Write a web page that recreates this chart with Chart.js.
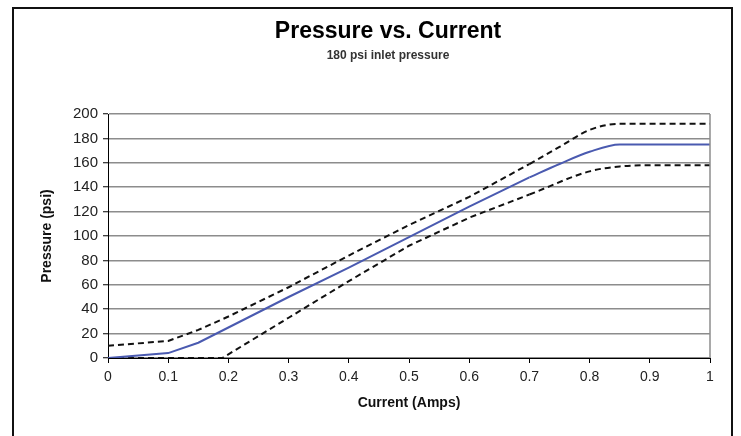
<!DOCTYPE html>
<html>
<head>
<meta charset="utf-8">
<title>Pressure vs. Current</title>
<script src="https://cdn.jsdelivr.net/npm/chart.js@4"></script>
<style>
  body { margin: 0; background: #fff; }
  #wrap { width: 741px; height: 436px; }
</style>
</head>
<body>
<div id="wrap"><canvas id="pressureChart" width="741" height="436"></canvas></div>
<script>
// values
const currentMid = [0, 0.1, 0.15, 0.2, 0.3, 0.4, 0.5, 0.6, 0.7, 0.75, 0.8, 0.85, 0.9, 1];
const pressureMid = [0, 4, 12.5, 25, 50, 74, 99, 124, 148, 159, 169, 175, 175, 175];

const currentHigh = [0, 0.1, 0.15, 0.2, 0.3, 0.4, 0.5, 0.6, 0.7, 0.75, 0.8, 0.85, 0.9, 1];
const pressureHigh = [10, 14, 23, 34, 58, 84, 109, 132, 159, 173, 187, 192, 192, 192];

const currentLow = [0, 0.1, 0.19, 0.3, 0.4, 0.5, 0.6, 0.7, 0.8, 0.85, 0.9, 1];
const pressureLow = [0, 0, 0, 33, 63, 92, 115, 134, 153, 157, 158, 158];

// straight segments below this current, smoothed bend above it
const BEND_FROM = 0.7;

const FONT = "'Liberation Sans', Arial, sans-serif";

function toPoints(xs, ys, keep) {
  return xs.map((x, i) => ({ x: x, y: ys[i] })).filter(p => keep(p.x));
}

// each curve = straight part + smooth part, same style
function curve(xs, ys, color, dash) {
  const base = {
    showLine: true,
    borderColor: color,
    borderWidth: 2,
    borderDash: dash,
    pointRadius: 0
  };
  return [
    Object.assign({}, base, {
      data: toPoints(xs, ys, x => x <= BEND_FROM),
      tension: 0
    }),
    Object.assign({}, base, {
      data: toPoints(xs, ys, x => x >= BEND_FROM),
      cubicInterpolationMode: 'monotone'
    })
  ];
}

// frame, plot border and the two heading lines
const decorations = {
  id: 'decorations',
  beforeDraw(chart) {
    const ctx = chart.ctx;
    ctx.save();
    ctx.strokeStyle = '#111';
    ctx.lineWidth = 2;
    ctx.strokeRect(13, 8, 719, 440);
    ctx.restore();
  },
  afterDraw(chart) {
    const ctx = chart.ctx;
    const area = chart.chartArea;
    ctx.save();
    ctx.strokeStyle = '#8c8c8c';
    ctx.lineWidth = 1.5;
    ctx.beginPath();
    ctx.moveTo(area.right, area.top);
    ctx.lineTo(area.right, area.bottom);
    ctx.stroke();

    ctx.textAlign = 'center';
    ctx.textBaseline = 'middle';
    ctx.fillStyle = '#000';
    ctx.font = 'bold 23px ' + FONT;
    ctx.fillText('Pressure vs. Current', 388, 32);
    ctx.fillStyle = '#333';
    ctx.font = 'bold 12px ' + FONT;
    ctx.fillText('180 psi inlet pressure', 388, 56);
    ctx.restore();
  }
};

const ctx = document.getElementById('pressureChart').getContext('2d');
new Chart(ctx, {
  type: 'scatter',
  data: {
    datasets: [
      ...curve(currentHigh, pressureHigh, '#111', [6, 4]),
      ...curve(currentMid, pressureMid, '#4a5ab0', []),
      ...curve(currentLow, pressureLow, '#111', [6, 4])
    ]
  },
  options: {
    responsive: false,
    animation: false,
    layout: {
      padding: { left: 30, right: 31, top: 114, bottom: 20 }
    },
    plugins: {
      legend: { display: false },
      tooltip: { enabled: false }
    },
    scales: {
      x: {
        type: 'linear',
        min: 0,
        max: 1,
        afterFit(scale) { scale.height = 58; },
        ticks: {
          stepSize: 0.1,
          padding: 6,
          color: '#222',
          font: { family: FONT, size: 14 },
          callback: v => String(+v.toFixed(1))
        },
        grid: {
          drawOnChartArea: false,
          drawTicks: true,
          tickLength: 5,
          tickColor: '#000',
          tickWidth: 1
        },
        border: { color: '#000', width: 1 },
        title: {
          display: true,
          text: 'Current (Amps)',
          color: '#111',
          padding: { top: 0, bottom: 4 },
          font: { family: FONT, size: 14, weight: 'bold' }
        }
      },
      y: {
        type: 'linear',
        min: 0,
        max: 200,
        afterFit(scale) { scale.width = 78; },
        ticks: {
          stepSize: 20,
          padding: 5,
          color: '#222',
          font: { family: FONT, size: 15 }
        },
        grid: {
          color: '#8c8c8c',
          lineWidth: 1.5,
          tickLength: 5,
          tickColor: '#000',
          tickWidth: 1
        },
        border: { color: '#000', width: 1 },
        title: {
          display: true,
          text: 'Pressure (psi)',
          color: '#111',
          padding: { top: 9, bottom: 0 },
          font: { family: FONT, size: 14, weight: 'bold' }
        }
      }
    }
  },
  plugins: [decorations]
});
</script>
</body>
</html>
